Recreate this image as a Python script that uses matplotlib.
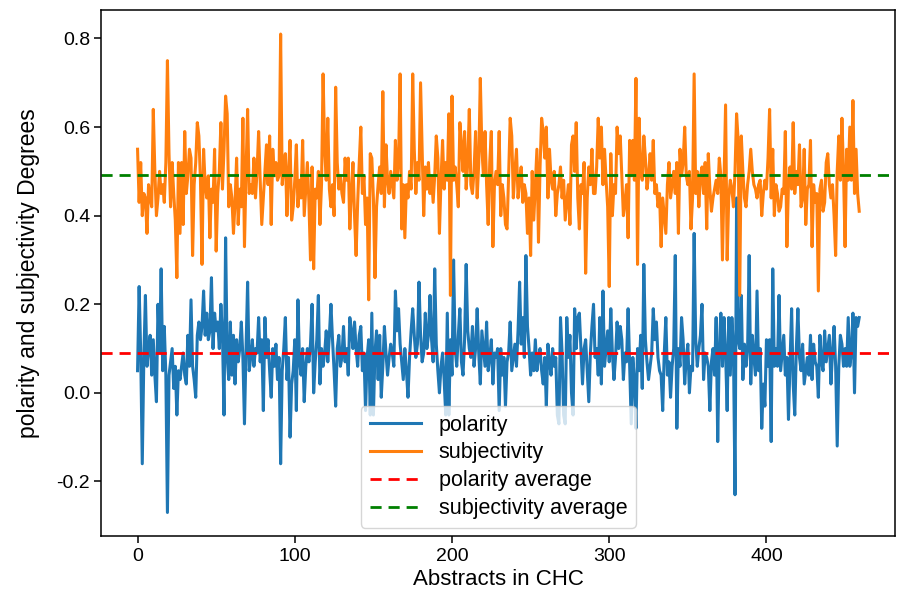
import matplotlib
matplotlib.use("Agg")
import matplotlib.pyplot as plt
import numpy as np

# sentiment scores per abstract
polarity = [
    0.05, 0.24, 0.09, -0.16, 0.08, 0.22, 0.06, 0.10, 0.13, 0.04, 0.12, 0.04, -0.02, 0.20, 0.09, 0.28, 0.05, 0.15, 0.04, -0.27,
    0.04, 0.07, 0.10, 0.01, 0.06, -0.05, 0.05, 0.03, 0.06, 0.09, 0.04, 0.02, 0.13, 0.06, 0.21, 0.06, 0.03, -0.01, 0.13, 0.16,
    0.12, 0.15, 0.23, 0.13, 0.18, 0.12, 0.14, 0.26, 0.10, 0.18, 0.14, 0.16, 0.10, 0.20, 0.13, -0.05, 0.35, 0.08, 0.03, 0.16,
    0.04, 0.13, 0.02, 0.12, 0.07, 0.10, 0.16, 0.08, -0.07, 0.10, 0.25, 0.05, 0.08, 0.12, 0.06, 0.10, 0.09, 0.17, 0.07, 0.12,
    -0.04, 0.17, 0.08, 0.12, 0.05, -0.01, 0.10, 0.06, 0.11, 0.03, 0.08, -0.16, 0.05, 0.10, 0.17, 0.03, 0.08, -0.10, 0.02, 0.05,
    0.12, -0.04, 0.21, 0.07, 0.04, 0.10, -0.02, 0.06, 0.10, 0.07, 0.11, 0.20, 0.00, 0.07, 0.12, 0.22, 0.02, 0.10, 0.06, 0.09,
    0.14, 0.07, 0.13, 0.20, 0.12, 0.05, -0.03, 0.10, 0.13, 0.06, 0.08, 0.15, 0.07, 0.10, 0.04, 0.17, 0.14, 0.10, 0.16, 0.10,
    0.06, 0.13, 0.15, 0.05, 0.09, -0.04, 0.08, 0.12, -0.05, 0.18, -0.05, 0.09, 0.14, 0.03, 0.13, -0.01, 0.06, 0.15, 0.09, 0.04,
    0.08, 0.11, 0.09, 0.06, 0.23, 0.14, 0.19, 0.11, 0.07, 0.03, 0.10, 0.05, -0.01, 0.08, 0.14, 0.19, 0.13, 0.08, 0.11, 0.25,
    0.13, 0.07, 0.09, 0.18, 0.10, 0.13, 0.22, 0.12, 0.07, 0.28, 0.11, 0.05, 0.00, 0.06, 0.09, 0.03, -0.05, 0.18, -0.05, 0.12,
    0.04, 0.30, 0.10, 0.06, 0.13, 0.19, 0.07, 0.04, 0.12, 0.29, 0.14, 0.10, 0.08, 0.15, 0.06, 0.10, 0.19, 0.09, 0.02, 0.14,
    0.10, 0.06, 0.16, 0.05, 0.08, 0.12, 0.02, 0.09, 0.08, 0.10, -0.04, 0.10, 0.04, 0.08, -0.03, 0.07, 0.09, 0.16, 0.05, 0.08,
    0.11, 0.06, 0.14, 0.25, 0.11, 0.17, 0.08, 0.31, 0.15, 0.10, 0.04, 0.09, 0.05, 0.12, 0.05, 0.08, 0.10, 0.05, 0.02, 0.08,
    -0.03, 0.11, 0.07, 0.04, 0.10, 0.06, 0.08, -0.05, -0.07, 0.17, 0.09, -0.05, -0.07, 0.17, 0.08, 0.13, 0.00, -0.05, 0.19, 0.10,
    0.17, 0.18, 0.10, 0.02, 0.10, 0.12, 0.05, -0.02, 0.09, 0.15, 0.20, 0.08, 0.10, 0.04, 0.17, 0.02, 0.23, 0.06, 0.10, 0.14,
    0.07, 0.19, 0.09, 0.03, 0.08, 0.16, 0.10, 0.15, 0.12, 0.03, 0.09, 0.07, 0.19, 0.06, -0.07, 0.08, 0.03, -0.08, 0.10, 0.05,
    0.13, 0.01, 0.29, 0.12, 0.07, 0.03, 0.06, 0.09, 0.19, 0.12, 0.16, 0.08, 0.05, 0.04, -0.04, 0.09, 0.17, 0.04, 0.07, -0.01,
    0.06, 0.10, 0.31, -0.08, 0.10, 0.06, 0.17, 0.12, 0.02, 0.08, 0.11, 0.00, 0.06, 0.05, 0.36, 0.12, 0.06, 0.10, 0.13, 0.20,
    0.03, 0.09, 0.08, 0.06, -0.04, 0.07, 0.10, 0.04, 0.17, -0.11, 0.10, 0.18, 0.06, 0.17, 0.09, -0.04, 0.17, 0.04, 0.17, 0.10,
    -0.23, 0.44, 0.12, 0.10, 0.22, 0.03, 0.11, 0.06, 0.10, 0.31, 0.02, 0.13, 0.08, 0.04, 0.23, 0.05, 0.10, -0.08, 0.02, -0.03,
    0.12, 0.06, 0.12, -0.11, 0.28, 0.06, 0.10, 0.06, 0.22, 0.05, 0.09, 0.13, 0.04, 0.08, -0.06, 0.07, 0.19, 0.02, -0.05, 0.10,
    0.19, 0.08, 0.05, 0.11, 0.02, 0.05, 0.08, 0.04, 0.13, 0.03, 0.11, 0.07, 0.06, -0.01, 0.13, 0.07, 0.05, 0.14, 0.07, 0.10,
    0.13, 0.02, 0.09, 0.15, 0.06, -0.12, 0.06, 0.13, 0.11, 0.06, 0.10, 0.06, 0.17, 0.06, 0.09, 0.18, 0.00, 0.17, 0.15, 0.17,
]

subjectivity = [
    0.55, 0.43, 0.52, 0.40, 0.45, 0.44, 0.36, 0.47, 0.44, 0.42, 0.64, 0.50, 0.40, 0.44, 0.50, 0.45, 0.47, 0.43, 0.52, 0.75,
    0.54, 0.42, 0.52, 0.45, 0.39, 0.26, 0.52, 0.36, 0.52, 0.38, 0.59, 0.45, 0.49, 0.55, 0.53, 0.31, 0.47, 0.52, 0.61, 0.58,
    0.48, 0.29, 0.55, 0.47, 0.44, 0.49, 0.35, 0.46, 0.43, 0.55, 0.32, 0.45, 0.50, 0.61, 0.46, 0.55, 0.67, 0.63, 0.42, 0.47,
    0.44, 0.36, 0.43, 0.53, 0.38, 0.46, 0.42, 0.62, 0.33, 0.50, 0.64, 0.45, 0.47, 0.45, 0.53, 0.44, 0.50, 0.59, 0.48, 0.38,
    0.44, 0.50, 0.56, 0.47, 0.58, 0.38, 0.55, 0.49, 0.52, 0.48, 0.49, 0.81, 0.47, 0.51, 0.54, 0.40, 0.50, 0.57, 0.39, 0.42,
    0.48, 0.56, 0.42, 0.48, 0.44, 0.57, 0.40, 0.46, 0.52, 0.43, 0.30, 0.51, 0.28, 0.46, 0.44, 0.50, 0.38, 0.47, 0.72, 0.55,
    0.48, 0.62, 0.46, 0.42, 0.47, 0.40, 0.69, 0.52, 0.46, 0.49, 0.45, 0.43, 0.53, 0.48, 0.53, 0.37, 0.45, 0.52, 0.40, 0.31,
    0.43, 0.52, 0.60, 0.45, 0.49, 0.38, 0.44, 0.21, 0.54, 0.53, 0.44, 0.26, 0.42, 0.47, 0.51, 0.45, 0.68, 0.42, 0.56, 0.48,
    0.45, 0.50, 0.47, 0.44, 0.57, 0.48, 0.52, 0.72, 0.37, 0.47, 0.35, 0.47, 0.44, 0.50, 0.46, 0.72, 0.55, 0.45, 0.52, 0.48,
    0.70, 0.55, 0.40, 0.51, 0.46, 0.52, 0.45, 0.49, 0.43, 0.49, 0.58, 0.53, 0.36, 0.48, 0.57, 0.46, 0.52, 0.48, 0.63, 0.22,
    0.67, 0.48, 0.51, 0.47, 0.42, 0.61, 0.56, 0.50, 0.59, 0.46, 0.52, 0.64, 0.47, 0.45, 0.50, 0.59, 0.44, 0.52, 0.71, 0.55,
    0.49, 0.59, 0.47, 0.38, 0.52, 0.59, 0.33, 0.47, 0.50, 0.47, 0.59, 0.40, 0.47, 0.44, 0.38, 0.37, 0.49, 0.62, 0.58, 0.44,
    0.50, 0.55, 0.44, 0.48, 0.51, 0.43, 0.47, 0.45, 0.36, 0.44, 0.31, 0.50, 0.39, 0.47, 0.55, 0.34, 0.51, 0.62, 0.59, 0.53,
    0.60, 0.44, 0.55, 0.48, 0.46, 0.50, 0.40, 0.45, 0.47, 0.51, 0.44, 0.48, 0.39, 0.43, 0.47, 0.38, 0.56, 0.58, 0.50, 0.61,
    0.44, 0.37, 0.47, 0.45, 0.52, 0.27, 0.44, 0.51, 0.47, 0.55, 0.45, 0.45, 0.51, 0.62, 0.53, 0.60, 0.47, 0.55, 0.48, 0.42,
    0.24, 0.54, 0.40, 0.47, 0.45, 0.60, 0.54, 0.58, 0.49, 0.40, 0.43, 0.47, 0.35, 0.57, 0.49, 0.57, 0.48, 0.71, 0.29, 0.62,
    0.50, 0.48, 0.58, 0.53, 0.46, 0.49, 0.54, 0.48, 0.57, 0.45, 0.47, 0.42, 0.45, 0.33, 0.44, 0.40, 0.36, 0.47, 0.52, 0.44,
    0.47, 0.50, 0.45, 0.52, 0.36, 0.55, 0.49, 0.52, 0.60, 0.49, 0.47, 0.50, 0.37, 0.44, 0.72, 0.45, 0.50, 0.42, 0.49, 0.51,
    0.45, 0.52, 0.37, 0.54, 0.46, 0.41, 0.44, 0.46, 0.48, 0.45, 0.53, 0.49, 0.30, 0.47, 0.65, 0.30, 0.44, 0.48, 0.46, 0.42,
    0.50, 0.63, 0.57, 0.22, 0.58, 0.50, 0.44, 0.42, 0.47, 0.50, 0.55, 0.50, 0.47, 0.46, 0.44, 0.47, 0.48, 0.40, 0.45, 0.48,
    0.46, 0.53, 0.64, 0.44, 0.55, 0.40, 0.47, 0.45, 0.41, 0.42, 0.46, 0.45, 0.59, 0.33, 0.47, 0.51, 0.46, 0.61, 0.45, 0.50,
    0.47, 0.56, 0.42, 0.44, 0.55, 0.38, 0.46, 0.47, 0.57, 0.33, 0.47, 0.43, 0.45, 0.23, 0.46, 0.48, 0.41, 0.43, 0.52, 0.54,
    0.47, 0.44, 0.47, 0.40, 0.31, 0.50, 0.58, 0.48, 0.62, 0.50, 0.33, 0.55, 0.48, 0.60, 0.48, 0.66, 0.45, 0.55, 0.45, 0.41,
]

polarity_avg = 0.091
subjectivity_avg = 0.491

yticks = [-0.2, 0.0, 0.2, 0.4, 0.6, 0.8]
ytick_labels = ["-0.2", "0.0", "0.2", "0.4", "0.6", "0.8"]

plt.rcParams['font.family'] = ['Liberation Sans', 'DejaVu Sans']

fig = plt.figure(figsize=(8.98, 5.96), dpi=100)
ax = fig.add_axes([0.113, 0.10, 0.884, 0.883])

x = np.arange(len(polarity))
ax.plot(x, polarity, color='#1f77b4', lw=2.2, label='polarity')
ax.plot(x, subjectivity, color='#ff7f0e', lw=2.2, label='subjectivity')
ax.axhline(polarity_avg, color='red', ls='--', lw=2.0, dashes=(4, 2.5), label='polarity average')
ax.axhline(subjectivity_avg, color='green', ls='--', lw=2.0, dashes=(4, 2.5), label='subjectivity average')

ax.set_yticks(yticks)
ax.set_yticklabels(ytick_labels)
ax.tick_params(labelsize=14, length=4.7, width=1.1)
for s in ax.spines.values():
    s.set_linewidth(1.1)

ax.set_xlabel('Abstracts in CHC', fontsize=16, labelpad=3)
ax.set_ylabel('polarity and subjectivity Degrees', fontsize=16.5, labelpad=12)
ax.legend(loc='lower center', fontsize=15.5, labelspacing=0.32, handlelength=2.4,
          borderaxespad=0.4)

fig.savefig('out.png', dpi=100)
